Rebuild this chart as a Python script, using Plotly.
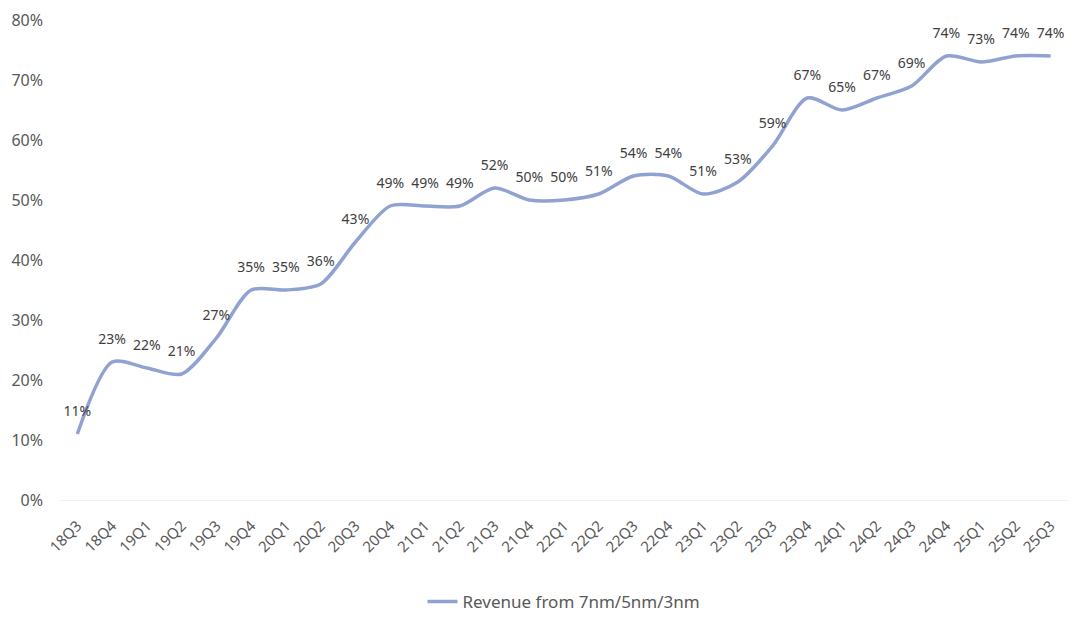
import plotly.graph_objects as go

quarters = ["18Q3","18Q4","19Q1","19Q2","19Q3","19Q4","20Q1","20Q2","20Q3","20Q4",
            "21Q1","21Q2","21Q3","21Q4","22Q1","22Q2","22Q3","22Q4","23Q1","23Q2",
            "23Q3","23Q4","24Q1","24Q2","24Q3","24Q4","25Q1","25Q2","25Q3"]
share = [11,23,22,21,27,35,35,36,43,49,49,49,52,50,50,51,54,54,51,53,59,67,65,67,69,74,73,74,74]
y_ticks = [0,10,20,30,40,50,60,70,80]

fig = go.Figure()
fig.add_trace(go.Scatter(
    x=quarters, y=share, mode="lines+markers+text",
    name="Revenue from 7nm/5nm/3nm",
    line=dict(color="#8fa2d2", width=3.5, shape="spline", smoothing=0.8),
    marker=dict(size=22, color="rgba(0,0,0,0)"),
    text=[f"{v}%" for v in share], textposition="top center",
    textfont=dict(size=14, color="#404040", family="Noto Sans"),
))
fig.update_layout(
    width=1080, height=622, paper_bgcolor="white", plot_bgcolor="white",
    margin=dict(l=60, r=12, t=20, b=122, autoexpand=False),
    font=dict(family="Noto Sans", color="#595959"),
    showlegend=True,
    legend=dict(orientation="h", x=0.5, xanchor="center", y=-0.175, yanchor="top",
                font=dict(size=17, color="#595959"), itemwidth=30),
)
fig.update_xaxes(type="category", tickangle=-45, tickfont=dict(size=15, color="#595959"),
                 showgrid=False, showline=True, linecolor="#f0f0f0", linewidth=1,
                 ticks="", range=[-0.5, len(quarters)-0.5], automargin=False,
                 ticklabelstandoff=10)
fig.update_yaxes(range=[0, 80], tickvals=y_ticks, ticktext=[f"{v}%" for v in y_ticks],
                 tickfont=dict(size=16, color="#595959"), showgrid=False,
                 zeroline=False, ticks="", ticklabelstandoff=16, automargin=False)
fig.write_html("out.html")
